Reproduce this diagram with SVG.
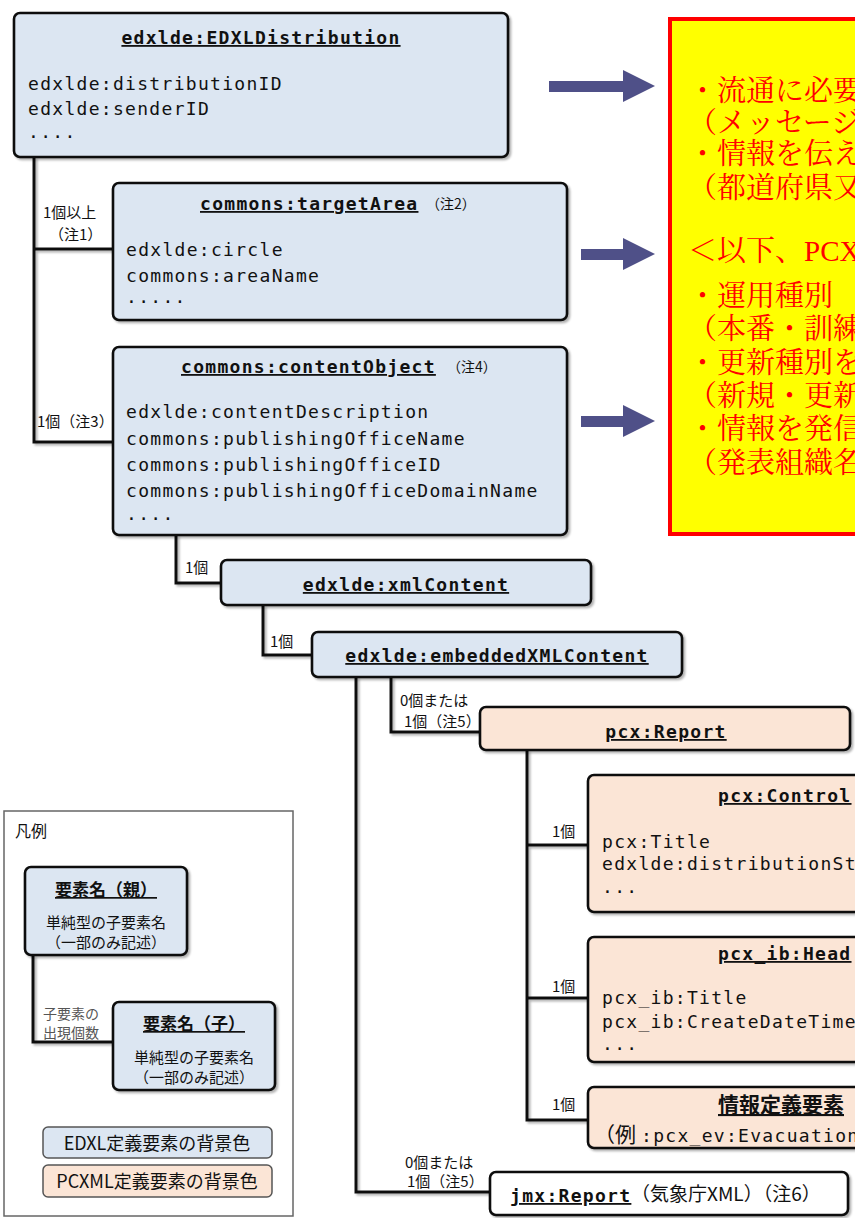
<svg xmlns="http://www.w3.org/2000/svg" width="855" height="1218" viewBox="0 0 855 1218">
  <defs>
    <filter id="shadow" x="-5%" y="-5%" width="115%" height="120%">
      <feDropShadow dx="2" dy="2" stdDeviation="1.2" flood-color="#000" flood-opacity="0.3"/>
    </filter>
    <style>
      .box { stroke: #111; stroke-width: 2.6; filter: url(#shadow); }
      .edxl { fill: #dce6f2; }
      .pcx { fill: #fbe5d6; }
      .plain { fill: #ffffff; }
      .wire { fill: none; stroke: #111; stroke-width: 3; stroke-linejoin: miter; }
      .mono { font-family: 'DejaVu Sans Mono', 'Liberation Mono', monospace; font-size: 18px; letter-spacing: 1.3px; fill: #111; }
      .ttl { font-weight: bold; text-decoration: underline; }
      .jp { font-family: 'Noto Sans CJK JP', sans-serif; fill: #111; }
      .lbl { font-size: 15px; }
      .note { font-size: 14px; }
      .memo { font-family: 'Liberation Serif', 'Noto Serif CJK JP', 'Noto Sans CJK JP', serif; font-size: 29px; fill: #ff0000; }
      .arrow { fill: #4f5088; }
      .swatch { stroke: #555; stroke-width: 1.5; }
      .gray { fill: #555; }
    </style>
  </defs>

  <!-- connectors -->
  <g id="connectors" filter="url(#shadow)">
    <path class="wire" d="M34,157 V442 H113"/>
    <path class="wire" d="M34,249 H113"/>
    <path class="wire" d="M176,535 V583 H221"/>
    <path class="wire" d="M263,605 V655 H312"/>
    <path class="wire" d="M356,677 V1192 H490"/>
    <path class="wire" d="M391,677 V732 H480"/>
    <path class="wire" d="M527,750 V1120 H588"/>
    <path class="wire" d="M527,845 H588"/>
    <path class="wire" d="M527,998 H588"/>
  </g>

  <!-- multiplicity labels -->
  <g id="labels" class="jp lbl">
    <text x="43" y="218">1個以上</text>
    <text x="49" y="240">（注1）</text>
    <text x="37" y="427">1個（注3）</text>
    <text x="185" y="573">1個</text>
    <text x="270" y="647">1個</text>
    <text x="400" y="706">0個または</text>
    <text x="404" y="727">1個（注5）</text>
    <text x="552" y="837">1個</text>
    <text x="552" y="992">1個</text>
    <text x="552" y="1110">1個</text>
    <text x="405" y="1168">0個または</text>
    <text x="407" y="1187">1個（注5）</text>
  </g>

  <!-- EDXL-DE elements -->
  <g id="edxlDistribution">
    <rect class="box edxl" x="14" y="13" width="494" height="144" rx="6"/>
    <text class="mono ttl" x="261" y="44" text-anchor="middle">edxlde:EDXLDistribution</text>
    <text class="mono" x="28" y="90">edxlde:distributionID</text>
    <text class="mono" x="28" y="115">edxlde:senderID</text>
    <text class="mono" x="28" y="138">....</text>
  </g>

  <g id="targetArea">
    <rect class="box edxl" x="113" y="183" width="454" height="137" rx="6"/>
    <text class="mono ttl" x="200" y="210">commons:targetArea</text>
    <text class="jp note" x="426" y="209">（注2）</text>
    <text class="mono" x="126" y="256">edxlde:circle</text>
    <text class="mono" x="126" y="282">commons:areaName</text>
    <text class="mono" x="126" y="303">.....</text>
  </g>

  <g id="contentObject">
    <rect class="box edxl" x="113" y="347" width="454" height="188" rx="6"/>
    <text class="mono ttl" x="181" y="373">commons:contentObject</text>
    <text class="jp note" x="447" y="372">（注4）</text>
    <text class="mono" x="126" y="418">edxlde:contentDescription</text>
    <text class="mono" x="126" y="445">commons:publishingOfficeName</text>
    <text class="mono" x="126" y="471">commons:publishingOfficeID</text>
    <text class="mono" x="126" y="497">commons:publishingOfficeDomainName</text>
    <text class="mono" x="126" y="520">....</text>
  </g>

  <g id="xmlContent">
    <rect class="box edxl" x="221" y="560" width="370" height="45" rx="6"/>
    <text class="mono ttl" x="406" y="591" text-anchor="middle">edxlde:xmlContent</text>
  </g>

  <g id="embeddedXMLContent">
    <rect class="box edxl" x="312" y="632" width="370" height="45" rx="6"/>
    <text class="mono ttl" x="497" y="662" text-anchor="middle">edxlde:embeddedXMLContent</text>
  </g>

  <!-- PCXML elements -->
  <g id="pcxReport">
    <rect class="box pcx" x="480" y="707" width="370" height="43" rx="6"/>
    <text class="mono ttl" x="666" y="738" text-anchor="middle">pcx:Report</text>
  </g>

  <g id="pcxControl">
    <rect class="box pcx" x="588" y="775" width="300" height="137" rx="6"/>
    <text class="mono ttl" x="718" y="802">pcx:Control</text>
    <text class="mono" x="602" y="848">pcx:Title</text>
    <text class="mono" x="602" y="870">edxlde:distributionStatus</text>
    <text class="mono" x="602" y="893">...</text>
  </g>

  <g id="pcxHead">
    <rect class="box pcx" x="588" y="937" width="300" height="125" rx="6"/>
    <text class="mono ttl" x="718" y="960">pcx_ib:Head</text>
    <text class="mono" x="602" y="1004">pcx_ib:Title</text>
    <text class="mono" x="602" y="1028">pcx_ib:CreateDateTime</text>
    <text class="mono" x="602" y="1050">...</text>
  </g>

  <g id="infoElement">
    <rect class="box pcx" x="588" y="1087" width="300" height="61" rx="6"/>
    <text class="jp" x="718" y="1112" font-size="21" font-weight="bold" text-decoration="underline">情報定義要素</text>
    <text class="jp" x="594" y="1142" font-size="21">（例</text>
    <text class="mono" x="641" y="1142">:pcx_ev:Evacuation</text>
  </g>

  <g id="jmxReport">
    <rect class="box plain" x="490" y="1172" width="358" height="43" rx="6"/>
    <text class="mono ttl" x="510" y="1202">jmx:Report</text>
    <text class="jp" x="631" y="1201" font-size="19">（気象庁XML）（注6）</text>
  </g>

  <!-- explanation panel -->
  <g id="memo">
    <rect x="670" y="19" width="200" height="515" fill="#ffff00" stroke="#ff0000" stroke-width="4"/>
    <g class="memo">
      <text x="688" y="101">・流通に必要</text>
      <text x="688" y="133">（メッセージ</text>
      <text x="688" y="164">・情報を伝え</text>
      <text x="688" y="198">（都道府県又</text>
      <text x="688" y="261">＜以下、PCX</text>
      <text x="688" y="306">・運用種別</text>
      <text x="688" y="339">（本番・訓練</text>
      <text x="688" y="373">・更新種別を</text>
      <text x="688" y="406">（新規・更新</text>
      <text x="688" y="439">・情報を発信</text>
      <text x="688" y="473">（発表組織名</text>
    </g>
  </g>

  <g id="arrows">
    <polygon class="arrow" points="549,81 623,81 623,70 655,86 623,102 623,92 549,92"/>
    <polygon class="arrow" points="581,249 623,249 623,238 655,254 623,270 623,260 581,260"/>
    <polygon class="arrow" points="581,416 623,416 623,405 655,421 623,437 623,427 581,427"/>
  </g>

  <!-- legend -->
  <g id="legend">
    <rect x="4" y="811" width="289" height="405" fill="#fff" stroke="#666" stroke-width="1.5"/>
    <text class="jp" x="15" y="837" font-size="16">凡例</text>
    <path class="wire" d="M33,955 V1042 H113" filter="url(#shadow)"/>
    <g id="legendParent">
      <rect class="box edxl" x="25" y="867" width="162" height="88" rx="6"/>
      <text class="jp" x="106" y="896" font-size="17" font-weight="bold" text-decoration="underline" text-anchor="middle">要素名（親）</text>
      <text class="jp" x="106" y="928" font-size="15" text-anchor="middle">単純型の子要素名</text>
      <text class="jp" x="106" y="948" font-size="15" text-anchor="middle">（一部のみ記述）</text>
    </g>
    <text class="jp gray" x="43" y="1019" font-size="14">子要素の</text>
    <text class="jp gray" x="43" y="1038" font-size="14">出現個数</text>
    <g id="legendChild">
      <rect class="box edxl" x="113" y="1002" width="162" height="88" rx="6"/>
      <text class="jp" x="194" y="1030" font-size="17" font-weight="bold" text-decoration="underline" text-anchor="middle">要素名（子）</text>
      <text class="jp" x="194" y="1063" font-size="15" text-anchor="middle">単純型の子要素名</text>
      <text class="jp" x="194" y="1083" font-size="15" text-anchor="middle">（一部のみ記述）</text>
    </g>
    <g id="legendEdxl">
      <rect class="swatch edxl" x="43" y="1127" width="229" height="31" rx="5"/>
      <text class="jp" x="157" y="1150" font-size="18" text-anchor="middle">EDXL定義要素の背景色</text>
    </g>
    <g id="legendPcx">
      <rect class="swatch pcx" x="43" y="1165" width="229" height="32" rx="5"/>
      <text class="jp" x="157" y="1188" font-size="18" text-anchor="middle">PCXML定義要素の背景色</text>
    </g>
  </g>
</svg>
